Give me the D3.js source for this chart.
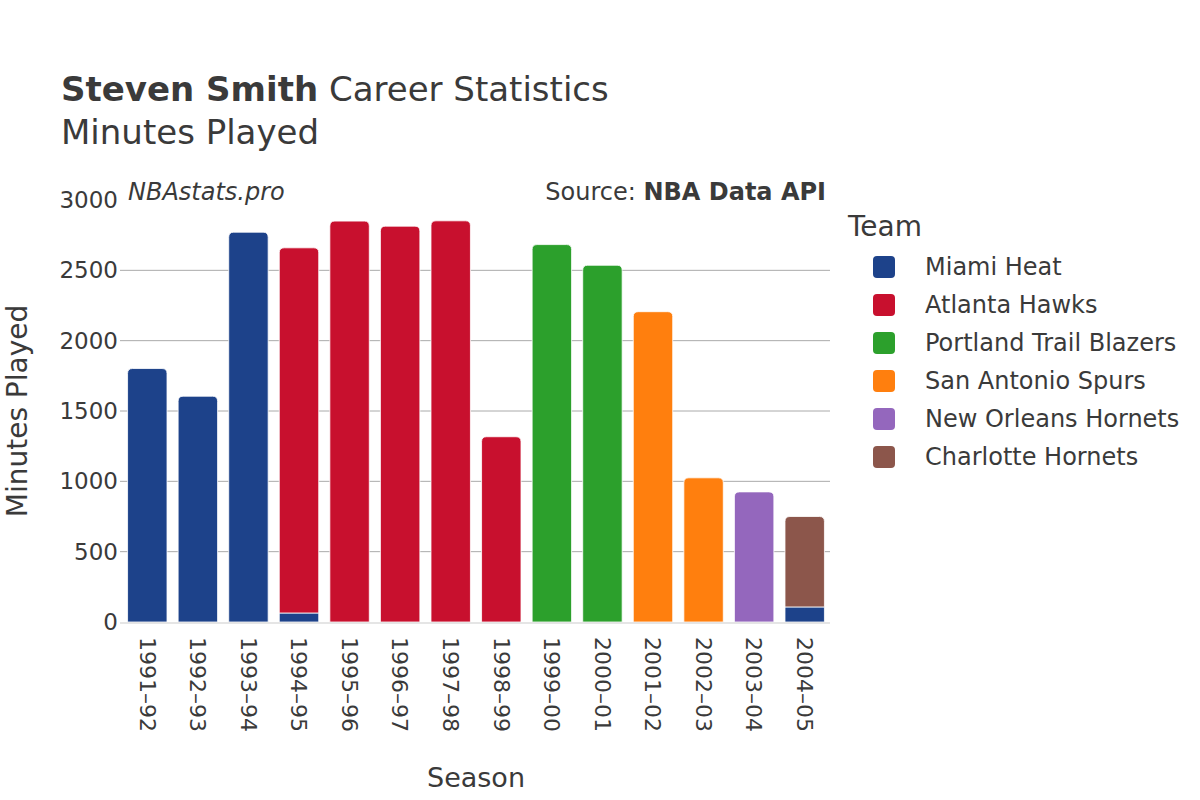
<!DOCTYPE html>
<html><head><meta charset="utf-8">
<script src="https://cdn.jsdelivr.net/npm/d3@7"></script>
<style>body{margin:0;background:#fff;font-family:"DejaVu Sans",sans-serif;}</style>
</head><body><svg id="c" width="1200" height="800"></svg>
<script>
const seasons = ["1991–92","1992–93","1993–94","1994–95","1995–96","1996–97","1997–98","1998–99","1999–00","2000–01","2001–02","2002–03","2003–04","2004–05"];
const teams = ["Miami Heat","Atlanta Hawks","Portland Trail Blazers","San Antonio Spurs","New Orleans Hornets","Charlotte Hornets"];
const teamColors = ["#1d428a","#c8102e","#2ca02c","#ff7f0e","#9467bd","#8c564b"];
const miamiHeat        = [1802,1605,2771,64,0,0,0,0,0,0,0,0,0,107];
const atlantaHawks     = [0,0,0,2596,2850,2814,2852,1317,0,0,0,0,0,0];
const portlandBlazers  = [0,0,0,0,0,0,0,0,2683,2536,0,0,0,0];
const sanAntonioSpurs  = [0,0,0,0,0,0,0,0,0,0,2206,1025,0,0];
const newOrleansHornets= [0,0,0,0,0,0,0,0,0,0,0,0,925,0];
const charlotteHornets = [0,0,0,0,0,0,0,0,0,0,0,0,0,643];
const yTicks = [0,500,1000,1500,2000,2500,3000];

const series = [miamiHeat,atlantaHawks,portlandBlazers,sanAntonioSpurs,newOrleansHornets,charlotteHornets];
const svg = d3.select("#c");
const txt = "#3a3a3a";
const L=120,R=830,T=200,B=622;
const x = d3.scaleBand().domain(seasons).range([122,830]).paddingInner(0.22).paddingOuter(0.11);
const y = d3.scaleLinear().domain([0,3000]).range([B,T]);

// grid (no line at the top tick)
svg.append("g").selectAll("line").data(yTicks.filter(d=>d>0 && d<3000)).join("line")
  .attr("x1",L).attr("x2",R).attr("y1",d=>y(d)).attr("y2",d=>y(d))
  .attr("stroke","#aaa").attr("stroke-width",1);

// bars
const rows = seasons.map((s,i)=>{const o={season:s}; teams.forEach((t,j)=>o[t]=series[j][i]); return o;});
const stack = d3.stack().keys(teams)(rows);
const r=5;
function barPath(x0,w,y0,y1,round){
  if(!round) return `M${x0},${y0}V${y1}H${x0+w}V${y0}Z`;
  return `M${x0},${y0}V${y1+r}Q${x0},${y1} ${x0+r},${y1}H${x0+w-r}Q${x0+w},${y1} ${x0+w},${y1+r}V${y0}Z`;
}
stack.forEach((layer,j)=>{
  layer.forEach((d,i)=>{
    if(d[1]-d[0]<=0) return;
    let isTop = true;
    for(let k=j+1;k<teams.length;k++) if(series[k][i]>0) isTop=false;
    const x0=x(seasons[i]), w=x.bandwidth();
    svg.append("path").attr("d",barPath(x0,w,y(d[0]),y(d[1]),isTop))
      .attr("fill",teamColors[j]).attr("stroke","#fff").attr("stroke-width",0.8);
  });
});

// zero line
svg.append("line").attr("x1",L).attr("x2",R).attr("y1",B+1).attr("y2",B+1).attr("stroke","#e5e5e5").attr("stroke-width",2);

// y axis labels
svg.append("g").selectAll("text").data(yTicks).join("text")
  .attr("x",L-2).attr("y",d=>y(d)).attr("dy","0.35em").attr("text-anchor","end")
  .attr("font-size",23).attr("fill",txt).text(d=>d);

// x axis labels
svg.append("g").selectAll("text").data(seasons).join("text")
  .attr("transform",d=>`translate(${x(d)+x.bandwidth()/2},${B+15}) rotate(90)`)
  .attr("dy","0.35em").attr("text-anchor","start").attr("font-size",22).attr("fill",txt).text(d=>d);

// titles
const t1=svg.append("text").attr("x",61).attr("y",101).attr("font-size",34).attr("fill",txt);
t1.append("tspan").attr("font-weight","bold").text("Steven Smith");
t1.append("tspan").text(" Career Statistics");
svg.append("text").attr("x",61).attr("y",144).attr("font-size",34).attr("fill",txt).text("Minutes Played");
svg.append("text").attr("transform","translate(27,411) rotate(-90)").attr("text-anchor","middle").attr("font-size",28).attr("fill",txt).text("Minutes Played");
svg.append("text").attr("x",476).attr("y",787).attr("text-anchor","middle").attr("font-size",27).attr("fill",txt).text("Season");
svg.append("text").attr("x",128).attr("y",200).attr("font-size",24).attr("font-style","italic").attr("fill",txt).text("NBAstats.pro");
const src=svg.append("text").attr("x",826).attr("y",200).attr("text-anchor","end").attr("font-size",24).attr("fill",txt);
src.append("tspan").text("Source: ");
src.append("tspan").attr("font-weight","bold").text("NBA Data API");

// legend
svg.append("text").attr("x",848).attr("y",236).attr("font-size",28).attr("fill",txt).text("Team");
const lg=svg.append("g").selectAll("g").data(teams).join("g").attr("transform",(d,i)=>`translate(873,${267+i*38})`);
lg.append("rect").attr("x",0).attr("y",-11).attr("width",22).attr("height",22).attr("rx",4).attr("fill",(d,i)=>teamColors[i]);
lg.append("text").attr("x",52).attr("dy","0.35em").attr("font-size",24).attr("fill",txt).text(d=>d);
</script></body></html>
